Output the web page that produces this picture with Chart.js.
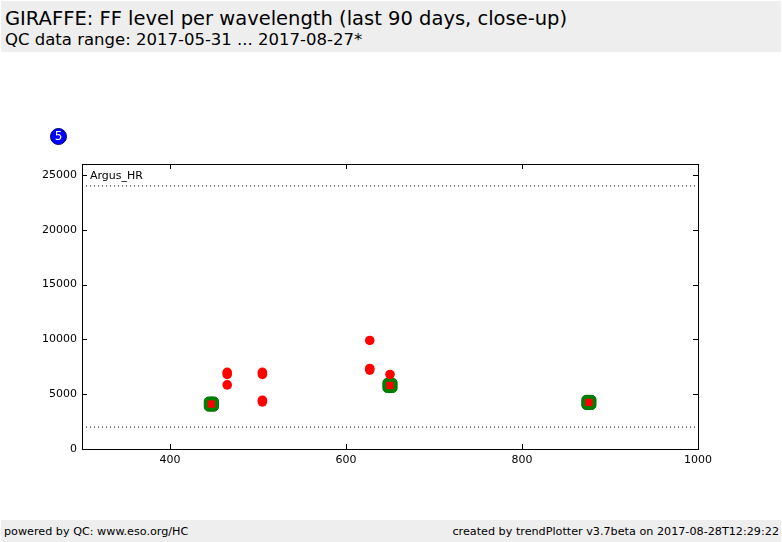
<!DOCTYPE html>
<html>
<head>
<meta charset="utf-8">
<script src="https://cdn.jsdelivr.net/npm/chart.js@4"></script>
<style>
  body { margin: 0; width: 782px; height: 542px; overflow: hidden; background: #fff; font-family: "DejaVu Sans", sans-serif; position: relative; }
  #head { position: absolute; left: 1px; top: 1px; width: 780px; height: 51px; background: #eeeeee; }
  #title { position: absolute; left: 4px; top: 6px; font-size: 19.5px; color: #000; white-space: nowrap; }
  #sub { position: absolute; left: 4px; top: 29px; font-size: 16.5px; color: #000; white-space: nowrap; }
  #foot { position: absolute; left: 1px; top: 520px; width: 780px; height: 22px; background: #eeeeee; font-size: 11.2px; }
  #foot .l { position: absolute; left: 3px; top: 5px; }
  #foot .r { position: absolute; right: 2px; top: 5px; }
  #wrap { position: absolute; left: 0; top: 0; width: 782px; height: 542px; }
  #badge { position: absolute; left: 50px; top: 128px; width: 15px; height: 15px; border-radius: 50%; background: #0000ff; border: 1px solid #000080; color: #fff; font-size: 12px; line-height: 15px; text-align: center; }
</style>
</head>
<body>
<div id="head">
  <div id="title">GIRAFFE: FF level per wavelength (last 90 days, close-up)</div>
  <div id="sub">QC data range: 2017-05-31 ... 2017-08-27*</div>
</div>
<div id="wrap"><canvas id="chart" width="782" height="542"></canvas></div>
<div id="badge">5</div>
<div id="foot"><span class="l">powered by QC: www.eso.org/HC</span><span class="r">created by trendPlotter v3.7beta on 2017-08-28T12:29:22</span></div>
<script>
// FF level readings (red dots)
const redWlen = [465, 465, 465, 505, 505, 505, 505, 627, 627, 627, 650];
const redLevel = [6800, 7000, 5850, 6800, 7000, 4300, 4450, 9900, 7200, 7350, 6800];

// reference points (green markers with red squares)
const refWlen = [447, 650, 876];
const refLevel = [4100, 5800, 4250];

// threshold lines
const upperLimit = 24000;
const lowerLimit = 2000;

const xTicks = [400, 600, 800, 1000];
const yTicks = [0, 5000, 10000, 15000, 20000, 25000];

const toPoints = (xs, ys) => xs.map((x, i) => ({ x, y: ys[i] }));

const innerTicks = {
  id: "innerTicks",
  afterDraw(chart) {
    const { ctx, chartArea: a, scales } = chart;
    ctx.save();
    ctx.strokeStyle = "#000";
    ctx.lineWidth = 1;
    ctx.beginPath();
    xTicks.forEach((v) => {
      const px = Math.round(scales.x.getPixelForValue(v)) + 0.5;
      ctx.moveTo(px, a.bottom); ctx.lineTo(px, a.bottom - 5);
      ctx.moveTo(px, a.top); ctx.lineTo(px, a.top + 5);
    });
    yTicks.forEach((v) => {
      const py = Math.round(scales.y.getPixelForValue(v)) + 0.5;
      ctx.moveTo(a.left, py); ctx.lineTo(a.left + 5, py);
      ctx.moveTo(a.right, py); ctx.lineTo(a.right - 5, py);
    });
    ctx.stroke();
    ctx.strokeRect(a.left + 0.5, a.top + 0.5, a.right - a.left, a.bottom - a.top);
    ctx.fillStyle = "#000";
    ctx.font = "11px 'DejaVu Sans'";
    ctx.textBaseline = "middle";
    ctx.fillText("Argus_HR", a.left + 8, a.top + 12);
    ctx.restore();
  },
};

const axisFont = { family: "DejaVu Sans", size: 11 };

new Chart(document.getElementById("chart"), {
  type: "scatter",
  data: {
    datasets: [
      {
        label: "level",
        data: toPoints(redWlen, redLevel),
        pointStyle: "circle",
        pointRadius: 4.8,
        backgroundColor: "#ff0000",
        borderWidth: 0,
      },
      {
        label: "refInner",
        data: toPoints(refWlen, refLevel),
        pointStyle: "rect",
        pointRadius: 5.2,
        backgroundColor: "#ff0000",
        borderWidth: 0,
      },
      {
        label: "ref",
        data: toPoints(refWlen, refLevel),
        pointStyle: "rectRounded",
        pointRadius: 8.3,
        backgroundColor: "#008000",
        borderColor: "#007000",
        borderWidth: 1,
      },
      {
        label: "upper",
        type: "line",
        data: [{ x: 300, y: upperLimit }, { x: 1000, y: upperLimit }],
        borderColor: "#000",
        borderWidth: 1,
        borderDash: [1, 3],
        pointRadius: 0,
      },
      {
        label: "lower",
        type: "line",
        data: [{ x: 300, y: lowerLimit }, { x: 1000, y: lowerLimit }],
        borderColor: "#000",
        borderWidth: 1,
        borderDash: [1, 3],
        pointRadius: 0,
      },
    ],
  },
  options: {
    responsive: false,
    animation: false,
    layout: { padding: { left: 0, right: 84, top: 164, bottom: 0 } },
    plugins: { legend: { display: false }, tooltip: { enabled: false } },
    scales: {
      x: {
        type: "linear",
        min: 300,
        max: 1000,
        afterBuildTicks: (s) => { s.ticks = xTicks.map((v) => ({ value: v })); },
        afterFit: (s) => { s.height = 93; },
        grid: { display: false, drawTicks: false },
        border: { display: false },
        ticks: { color: "#000", font: axisFont, padding: 5, maxRotation: 0, callback: (v) => String(v) },
        title: { display: true, text: "WLEN/nm", color: "#000", font: axisFont, padding: { top: 4 } },
      },
      y: {
        type: "linear",
        min: 0,
        max: 26000,
        afterBuildTicks: (s) => { s.ticks = yTicks.map((v) => ({ value: v })); },
        afterFit: (s) => { s.width = 82; },
        grid: { display: false, drawTicks: false },
        border: { display: false },
        ticks: { color: "#000", font: axisFont, padding: 5, callback: (v) => String(v) },
      },
    },
  },
  plugins: [innerTicks],
});
</script>
</body>
</html>
